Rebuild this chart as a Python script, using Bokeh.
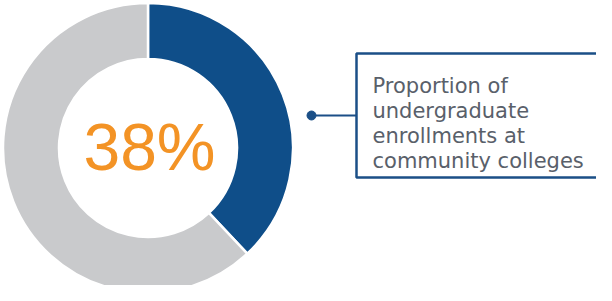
import math
from bokeh.plotting import figure
from bokeh.models import Range1d, ColumnDataSource
from bokeh.core.properties import value
from bokeh.embed import file_html
from bokeh.resources import INLINE

# ---- data ----
categories = ["Community colleges", "Other institutions"]
shares = [38, 62]
colors = ["#0F4E89", "#C9CACC"]
center_label = "38%"
callout_lines = ["Proportion of", "undergraduate", "enrollments at", "community colleges"]

W, H = 596, 285
p = figure(width=W, height=H, output_backend="svg", toolbar_location=None,
           x_axis_type=None, y_axis_type=None, min_border=0,
           x_range=Range1d(0, W), y_range=Range1d(0, H))
p.outline_line_color = None
p.grid.visible = False
p.background_fill_color = "white"

cx, cy = 147.5, 137.5
r_out, r_in = 145, 89

# wedges, clockwise from 12 o'clock
total = sum(shares)
starts, ends = [], []
acc = 0.0
for s in shares:
    a0 = math.pi / 2 - 2 * math.pi * acc / total
    a1 = math.pi / 2 - 2 * math.pi * (acc + s) / total
    starts.append(a1)
    ends.append(a0)
    acc += s
src = ColumnDataSource(dict(cat=categories, share=shares, start=starts, end=ends, color=colors))
p.annular_wedge(x=cx, y=cy, inner_radius=r_in, outer_radius=r_out,
                inner_radius_units="screen", outer_radius_units="screen",
                start_angle="start", end_angle="end", direction="anticlock",
                fill_color="color", line_color="white", line_width=2.5, source=src)

p.text(x=[cx + 1.5], y=[cy + 1], text=[center_label], text_align="center",
       text_baseline="middle", text_color="#F39325",
       text_font=value("Liberation Sans"), text_font_size="66px")

# callout
box_l, box_t, box_b = 356, 232, 108
p.quad(left=box_l, right=W + 20, top=box_t, bottom=box_b,
       fill_color="white", line_color="#1B4F87", line_width=2.5)
ly = (box_t + box_b) / 2
p.segment(x0=311, y0=ly, x1=box_l, y1=ly, line_color="#1B4F87", line_width=2)
p.scatter(x=[311], y=[ly], size=9, marker="circle", fill_color="#1B4F87", line_color="#1B4F87")

ys = [200 - 25 * i for i in range(len(callout_lines))]
p.text(x=[372] * len(callout_lines), y=ys, text=callout_lines, text_align="left",
       text_baseline="alphabetic", text_color="#59606A",
       text_font=value("DejaVu Sans"), text_font_size="21px")

open("out.html", "w").write(file_html(p, INLINE))
